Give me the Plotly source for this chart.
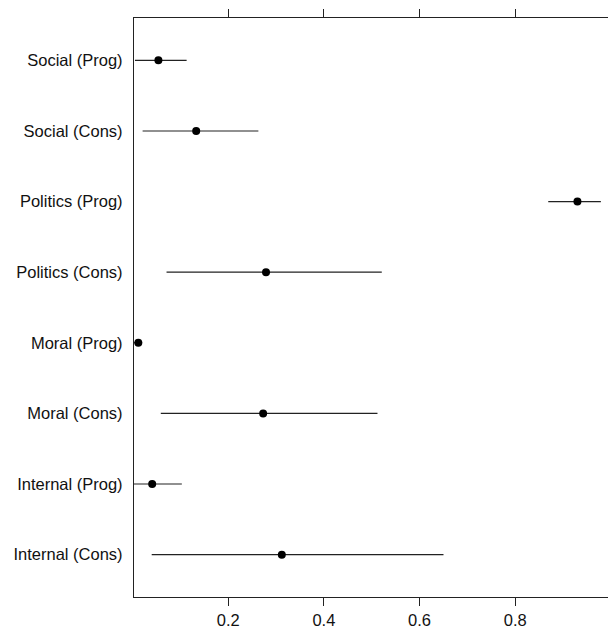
import plotly.graph_objects as go

categories = ["Social (Prog)", "Social (Cons)", "Politics (Prog)", "Politics (Cons)",
              "Moral (Prog)", "Moral (Cons)", "Internal (Prog)", "Internal (Cons)"]
estimate = [0.054, 0.133, 0.930, 0.279, 0.012, 0.273, 0.041, 0.312]
lower = [0.005, 0.021, 0.869, 0.071, 0.003, 0.059, 0.002, 0.040]
upper = [0.113, 0.263, 0.979, 0.521, 0.020, 0.512, 0.103, 0.650]
x_ticks = [0.2, 0.4, 0.6, 0.8]
x_tick_labels = ["0.2", "0.4", "0.6", "0.8"]

ypos = list(range(len(categories)))
plus = [u - e for u, e in zip(upper, estimate)]
minus = [e - l for e, l in zip(estimate, lower)]

fig = go.Figure()
fig.add_trace(go.Scatter(
    x=estimate, y=ypos, mode="markers",
    marker=dict(color="black", size=8),
    error_x=dict(type="data", symmetric=False, array=plus, arrayminus=minus,
                 color="#222", thickness=1.2, width=0),
    showlegend=False,
))

font = dict(family="Liberation Sans, Arial, sans-serif", size=16.5, color="#111")
fig.update_layout(
    width=620, height=641,
    margin=dict(l=134, r=0, t=18, b=44),
    paper_bgcolor="white", plot_bgcolor="white",
    font=font,
    xaxis=dict(range=[0.003, 1.019], tickvals=x_ticks, ticktext=x_tick_labels,
               showgrid=False, zeroline=False, showline=True, linecolor="#222",
               linewidth=1.2, mirror="ticks", ticks="outside", ticklen=8,
               tickcolor="#222", tickwidth=1.2, tickfont=font),
    yaxis=dict(range=[7.6, -0.6], tickvals=ypos, ticktext=categories,
               showgrid=False, zeroline=False, showline=True, linecolor="#222",
               linewidth=1.2, ticks="", ticklabelstandoff=7, tickfont=font),
)

fig.write_html(
    "out.html",
    config={"displayModeBar": False},
    post_script=("document.body.style.margin='0';"
                 "document.body.style.overflow='hidden';"
                 "document.documentElement.style.overflow='hidden';"),
)
